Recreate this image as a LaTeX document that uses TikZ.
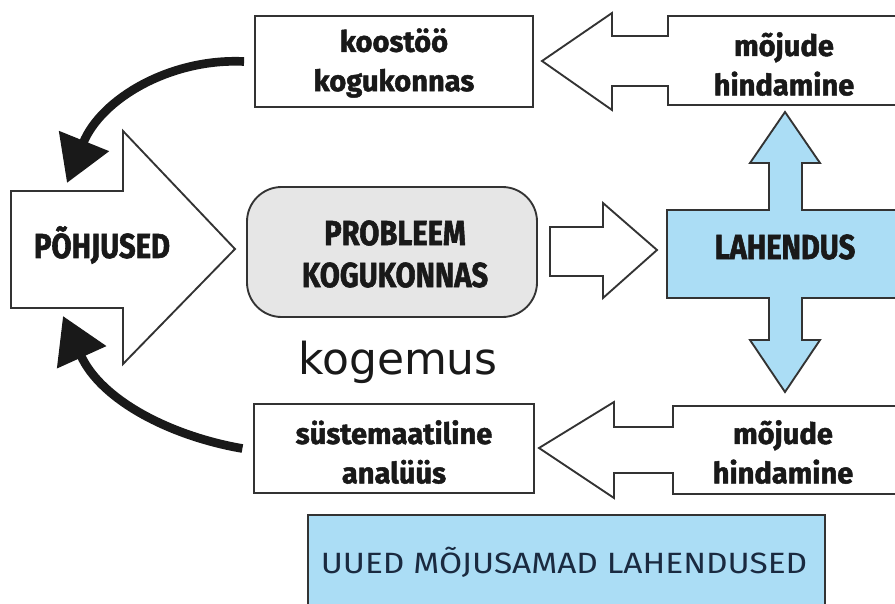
\documentclass[tikz,border=0pt]{standalone}
\usepackage{fontspec}
\newfontfamily\hvf{Fira Sans}[FakeStretch=0.84,BoldFeatures={FakeBold=1.6}]
\newfontfamily\lcf{Fira Sans}[FakeStretch=0.99,BoldFeatures={FakeBold=1.6}]
\newfontfamily\thinf{Fira Sans}[FakeStretch=1.14]
\newfontfamily\kgf{DejaVu Sans}
\usetikzlibrary{arrows.meta}
\definecolor{lblue}{HTML}{ABDDF5}
\definecolor{lgray}{HTML}{E6E6E6}
\definecolor{navy}{HTML}{1A2A40}
\begin{document}
\begin{tikzpicture}[x=0.75pt,y=-0.75pt,line join=miter,
  ol/.style={draw=black!80,line width=1.4pt},
  lbl/.style={font=\lcf\bfseries\fontsize{22}{29.5}\selectfont,align=center,text=black!90},
  capl/.style={font=\hvf\bfseries\fontsize{26}{31.5}\selectfont,align=center,text=black!90},
  curv/.style={line width=6.5pt,draw=black!90,-{Triangle[length=34pt,width=39pt]}}]
\path[use as bounding box] (0,0) rectangle (895,603);
\begin{scope}
\clip (0,0) rectangle (895,603);
% boxes
\node[ol,fill=white,minimum width=208.5pt,minimum height=68.25pt,inner sep=0pt] (koostoo) at (394,61.5) {};
\node[ol,fill=white,minimum width=210pt,minimum height=66.75pt,inner sep=0pt] (sust) at (394,448.5) {};
\node[ol,fill=lgray,rounded corners=26pt,minimum width=217.5pt,minimum height=97.5pt,inner sep=0pt] (prob) at (392,252) {};
\node[ol,fill=lblue,minimum width=387.75pt,minimum height=82.5pt,inner sep=0pt] (uued) at (566.5,570) {};
% block arrows
\draw[ol,fill=white] (11,191) -- (123,191) -- (123,131) -- (235,249) -- (123,364) -- (123,308) -- (11,308) -- cycle;
\draw[ol,fill=white] (550,227) -- (603,227) -- (603,203) -- (657,250) -- (603,298) -- (603,276) -- (550,276) -- cycle;
\draw[ol,fill=lblue] (667,210) -- (769,210) -- (769,163) -- (750,163) -- (785,112) -- (820,163) -- (802,163) -- (802,210)
  -- (905,210) -- (905,298) -- (802,298) -- (802,340) -- (820,340) -- (785,392) -- (750,340) -- (769,340) -- (769,298) -- (667,298) -- cycle;
\draw[ol,fill=white] (542,61) -- (612,13) -- (612,36) -- (668,36) -- (668,16) -- (905,16) -- (905,105) -- (668,105) -- (668,86) -- (612,86) -- (612,110) -- cycle;
\draw[ol,fill=white] (539,448) -- (614,402) -- (614,427) -- (673,427) -- (673,406) -- (905,406) -- (905,494) -- (673,494) -- (673,473) -- (614,473) -- (614,498) -- cycle;
% labels
\node[lbl] (tkoos) at (394,63) {koostöö\\kogukonnas};
\node[lbl] (tsust) at (394,452) {süstemaatiline\\analüüs};
\node[lbl] (tmtop) at (784,64) {mõjude\\hindamine};
\node[lbl] (tmbot) at (783,452) {mõjude\\hindamine};
\node[capl] (tpohj) at (102,245) {PÕHJUSED};
\node[capl] (tprob) at (395,254) {PROBLEEM\\KOGUKONNAS};
\node[capl] (tlah) at (785,247) {LAHENDUS};
\node[font=\kgf\fontsize{33}{38}\selectfont,text=black!90] (kog) at (398,362) {kogemus};
\node[font=\thinf\fontsize{22}{25}\selectfont,text=navy] (tuued) at (564,562) {UUED MÕJUSAMAD LAHENDUSED};
% curved arrows
\coordinate (ptop) at (67,183);
\coordinate (pbot) at (63,316);
\draw[curv] ([xshift=-7.5pt]koostoo.west) .. controls (170,58) and (101,99) .. (ptop);
\draw[curv] ([xshift=-8pt]sust.west) .. controls (170,436) and (101,400) .. (pbot);
\end{scope}
\end{tikzpicture}
\end{document}
